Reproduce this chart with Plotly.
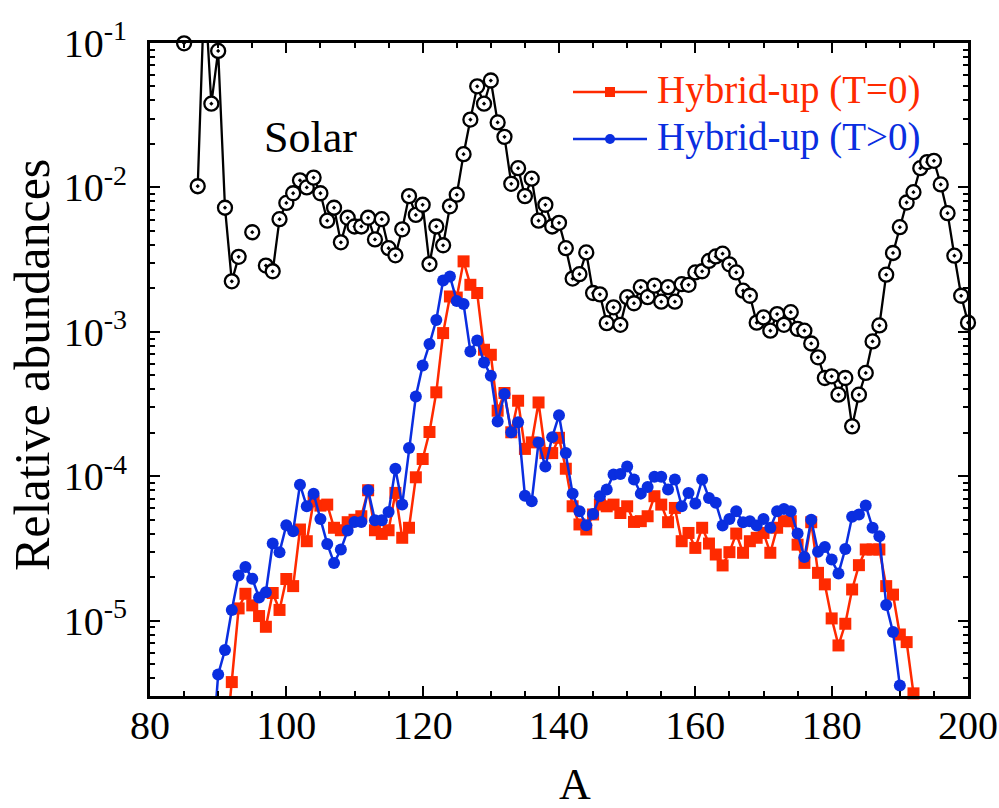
import plotly.graph_objects as go

# ---------------- data ----------------
solar_A = list(range(85, 201))
solar_vals = {
    85: 9.95e-2, 87: 1.02e-2, 88: 2.5e-1, 89: 3.80e-2, 90: 8.81e-2, 91: 7.24e-3,
    92: 2.24e-3, 93: 3.31e-3, 95: 4.90e-3, 97: 2.88e-3, 98: 2.63e-3, 99: 6.03e-3,
    100: 7.82e-3, 101: 9.12e-3, 102: 1.12e-2, 103: 1.00e-2, 104: 1.17e-2, 105: 9.12e-3,
    106: 5.89e-3, 107: 7.24e-3, 108: 4.17e-3, 109: 6.17e-3, 110: 5.37e-3, 111: 5.37e-3,
    112: 6.17e-3, 113: 4.37e-3, 114: 6.03e-3, 115: 3.80e-3, 116: 3.39e-3, 117: 5.13e-3,
    118: 8.71e-3, 119: 6.46e-3, 120: 7.59e-3, 121: 2.95e-3, 122: 5.37e-3, 123: 3.98e-3,
    124: 7.41e-3, 125: 8.91e-3, 126: 1.70e-2, 127: 2.95e-2, 128: 5.01e-2, 129: 3.80e-2,
    130: 5.50e-2, 131: 2.82e-2, 132: 2.24e-2, 133: 1.06e-2, 134: 1.36e-2, 135: 8.71e-3,
    136: 1.15e-2, 137: 5.89e-3, 138: 7.59e-3, 139: 5.37e-3, 140: 5.69e-3, 141: 3.80e-3,
    142: 2.34e-3, 143: 2.51e-3, 144: 3.55e-3, 145: 1.86e-3, 146: 1.82e-3, 147: 1.15e-3,
    148: 1.48e-3, 149: 1.12e-3, 150: 1.74e-3, 151: 1.58e-3, 152: 2.04e-3, 153: 1.74e-3,
    154: 2.09e-3, 155: 1.62e-3, 156: 2.04e-3, 157: 1.62e-3, 158: 2.14e-3, 159: 2.12e-3,
    160: 2.58e-3, 161: 2.63e-3, 162: 3.10e-3, 163: 3.33e-3, 164: 3.48e-3, 165: 2.94e-3,
    166: 2.58e-3, 167: 1.93e-3, 168: 1.78e-3, 169: 1.16e-3, 170: 1.26e-3, 171: 1.02e-3,
    172: 1.33e-3, 173: 1.12e-3, 174: 1.37e-3, 175: 1.05e-3, 176: 1.02e-3, 177: 8.32e-4,
    178: 6.67e-4, 179: 4.80e-4, 180: 4.93e-4, 181: 3.68e-4, 182: 4.80e-4, 183: 2.22e-4,
    184: 3.68e-4, 185: 5.20e-4, 186: 8.59e-4, 187: 1.11e-3, 188: 2.49e-3, 189: 3.52e-3,
    190: 5.31e-3, 191: 7.87e-3, 192: 9.27e-3, 193: 1.36e-2, 194: 1.50e-2, 195: 1.53e-2,
    196: 1.05e-2, 197: 6.64e-3, 198: 3.37e-3, 199: 1.78e-3, 200: 1.16e-3,
}
solar_Y = [solar_vals.get(a) for a in solar_A]  # None = no data (gap)

red_A = list(range(91, 193))
red_Y = [
    1.2e-6, 3.77e-6, 1.22e-5, 1.54e-5, 1.28e-5, 1.08e-5, 9.10e-6, 1.56e-5, 1.19e-5, 1.95e-5,  # 91-100
    1.74e-5, 4.29e-5, 3.56e-5, 6.73e-5, 6.28e-5, 6.38e-5, 4.41e-5, 4.24e-5, 4.82e-5, 5.01e-5,  # 101-110
    5.30e-5, 8.02e-5, 4.24e-5, 4.00e-5, 4.24e-5, 7.69e-5, 3.76e-5, 4.41e-5, 9.86e-5, 1.32e-4,  # 111-120
    2.03e-4, 3.82e-4, 9.82e-4, 1.76e-3, 1.73e-3, 3.08e-3, 2.12e-3, 1.86e-3, 7.53e-4, 6.95e-4,  # 121-130
    2.85e-4, 3.78e-4, 2.02e-4, 3.34e-4, 1.55e-4, 1.72e-4, 3.25e-4, 1.45e-4, 1.45e-4, 1.85e-4,  # 131-140
    1.13e-4, 6.21e-5, 4.65e-5, 4.29e-5, 5.45e-5, 6.38e-5, 6.21e-5, 6.38e-5, 5.58e-5, 6.21e-5,  # 141-150
    4.84e-5, 4.90e-5, 5.30e-5, 7.29e-5, 6.38e-5, 4.82e-5, 6.05e-5, 3.56e-5, 4.06e-5, 3.20e-5,  # 151-160
    4.41e-5, 3.43e-5, 2.88e-5, 2.42e-5, 2.99e-5, 4.02e-5, 2.96e-5, 3.56e-5, 3.76e-5, 4.06e-5,  # 161-170
    2.96e-5, 4.41e-5, 4.90e-5, 4.90e-5, 3.37e-5, 2.52e-5, 4.82e-5, 2.15e-5, 1.79e-5, 1.04e-5,  # 171-180
    6.76e-6, 9.55e-6, 1.65e-5, 2.43e-5, 3.12e-5, 3.12e-5, 3.12e-5, 1.74e-5, 1.52e-5, 8.05e-6,  # 181-190
    7.13e-6, 3.15e-6,                                                                          # 191-192
]

blue_A = list(range(89, 191))
blue_Y = [
    1.0e-6, 4.26e-6, 6.28e-6, 1.19e-5, 2.06e-5, 2.36e-5, 1.96e-5, 1.45e-5, 1.58e-5, 3.43e-5,  # 89-98
    2.99e-5, 4.59e-5, 4.17e-5, 8.77e-5, 6.21e-5, 7.60e-5, 5.08e-5, 3.41e-5, 2.52e-5, 3.12e-5,  # 99-108
    4.22e-5, 4.84e-5, 4.84e-5, 8.02e-5, 4.97e-5, 4.97e-5, 5.68e-5, 1.13e-4, 6.38e-5, 1.57e-4,  # 109-118
    3.58e-4, 5.86e-4, 8.24e-4, 1.21e-3, 2.27e-3, 2.42e-3, 1.64e-3, 1.56e-3, 7.33e-4, 8.73e-4,  # 119-128
    6.15e-4, 4.98e-4, 2.40e-4, 3.72e-4, 2.02e-4, 2.37e-4, 7.36e-5, 6.73e-5, 1.72e-4, 1.17e-4,  # 129-138
    1.87e-4, 2.65e-4, 1.45e-4, 7.60e-5, 5.74e-5, 4.59e-5, 5.50e-5, 7.29e-5, 8.11e-5, 1.03e-4,  # 139-148
    1.04e-4, 1.17e-4, 9.51e-5, 7.60e-5, 8.45e-5, 9.93e-5, 9.93e-5, 8.11e-5, 9.51e-5, 6.21e-5,  # 149-158
    7.69e-5, 6.49e-5, 9.51e-5, 7.10e-5, 6.56e-5, 4.57e-5, 5.08e-5, 5.74e-5, 4.82e-5, 4.90e-5,  # 159-168
    4.57e-5, 5.08e-5, 4.41e-5, 5.74e-5, 5.96e-5, 5.74e-5, 4.02e-5, 2.77e-5, 5.02e-5, 3.01e-5,  # 169-178
    3.25e-5, 2.66e-5, 2.13e-5, 3.15e-5, 5.25e-5, 5.45e-5, 6.28e-5, 4.41e-5, 3.85e-5, 1.29e-5,  # 179-188
    8.36e-6, 3.57e-6,                                                                          # 189-190
]

x_ticks = [80, 100, 120, 140, 160, 180, 200]
y_ticks = [1e-5, 1e-4, 1e-3, 1e-2, 1e-1]
y_ticktext = ["10<sup>-5</sup>", "10<sup>-4</sup>", "10<sup>-3</sup>", "10<sup>-2</sup>", "10<sup>-1</sup>"]
legend_labels = ["Hybrid-up (T=0)", "Hybrid-up (T>0)"]

# ---------------- styling ----------------
FONT = "Liberation Serif"
RED = "#ff2a00"
BLUE = "#0a2ee0"
YMIN_LOG, YMAX_LOG = -5.52, -1.0
YMIN, YMAX = 10 ** YMIN_LOG, 10 ** YMAX_LOG


def vis(vals):
    # hide markers of points that lie outside the plotted range (line still drawn, clipped)
    return [0 if (v is None or v < YMIN * 0.999 or v > YMAX * 1.001) else 1 for v in vals]


fig = go.Figure()

fig.add_trace(go.Scatter(
    x=solar_A, y=solar_Y, mode="lines+markers", name="Solar", showlegend=False,
    connectgaps=False, cliponaxis=False,
    line=dict(color="black", width=2.3),
    marker=dict(symbol="circle-dot", size=14, color="white",
                opacity=vis(solar_Y), line=dict(color="black", width=2.3)),
))
fig.add_trace(go.Scatter(
    x=red_A, y=red_Y, mode="lines+markers", name=legend_labels[0], showlegend=False,
    cliponaxis=False,
    line=dict(color=RED, width=2.5),
    marker=dict(symbol="square", size=12, color=RED, opacity=vis(red_Y)),
))
fig.add_trace(go.Scatter(
    x=blue_A, y=blue_Y, mode="lines+markers", name=legend_labels[1], showlegend=False,
    cliponaxis=False,
    line=dict(color=BLUE, width=2.5),
    marker=dict(symbol="circle", size=12, color=BLUE, opacity=vis(blue_Y)),
))

# geometry helpers (plot area in pixels)
L, R, T, B = 150, 968, 43, 696
W, H = 999, 808


def px(x):
    return (x - L) / (R - L)


def py(y):
    return (B - y) / (B - T)


minor_y = [k * 10 ** n for n in range(-6, -1) for k in range(2, 10)]

fig.update_layout(
    width=W, height=H,
    margin=dict(l=L, r=W - R, t=T, b=H - B, autoexpand=False),
    paper_bgcolor="white", plot_bgcolor="white",
    font=dict(family=FONT, color="black"),
    showlegend=False,
    xaxis=dict(
        range=[80, 200], tickvals=x_ticks, ticktext=[str(v) for v in x_ticks],
        automargin=False,
        ticks="inside", ticklen=10, tickwidth=2, tickcolor="black",
        showline=True, linewidth=3, linecolor="black", mirror="ticks",
        showgrid=False, zeroline=False,
        tickfont=dict(family=FONT, size=40, color="black"),
        ticklabelstandoff=-8,
        minor=dict(dtick=5, ticks="inside", ticklen=5, tickwidth=2, tickcolor="black", showgrid=False),
    ),
    yaxis=dict(
        type="log", range=[YMIN_LOG, YMAX_LOG], tickvals=y_ticks, ticktext=y_ticktext,
        automargin=False,
        ticks="inside", ticklen=10, tickwidth=2, tickcolor="black",
        showline=True, linewidth=3, linecolor="black", mirror="ticks",
        showgrid=False, zeroline=False,
        tickfont=dict(family=FONT, size=40, color="black"),
        ticklabelstandoff=12,
        minor=dict(tickvals=minor_y, ticks="inside", ticklen=5, tickwidth=2, tickcolor="black", showgrid=False),
    ),
)

annotations = [
    dict(text="A", x=px(575), y=py(784), xref="paper", yref="paper", showarrow=False,
         xanchor="center", yanchor="middle", font=dict(family=FONT, size=44, color="black")),
    dict(text="Relative abundances", x=px(32), y=py(365), xref="paper", yref="paper",
         showarrow=False, textangle=-90, xanchor="center", yanchor="middle",
         font=dict(family=FONT, size=50, color="black")),
    dict(text="Solar", x=px(310), y=py(137), xref="paper", yref="paper", showarrow=False,
         xanchor="center", yanchor="middle", font=dict(family=FONT, size=44, color="black")),
]

# manual legend (long sample lines like the reference)
shapes = []
for i, (lab, col) in enumerate(zip(legend_labels, [RED, BLUE])):
    yy = 92 + 47 * i
    shapes.append(dict(type="line", xref="paper", yref="paper",
                       x0=px(573), x1=px(647), y0=py(yy), y1=py(yy),
                       line=dict(color=col, width=2.5)))
    if i == 0:
        shapes.append(dict(type="rect", xref="paper", yref="paper",
                           x0=px(605), x1=px(615), y0=py(yy + 5), y1=py(yy - 5),
                           fillcolor=col, line=dict(width=0)))
    else:
        shapes.append(dict(type="circle", xref="paper", yref="paper",
                           x0=px(605), x1=px(615), y0=py(yy + 5), y1=py(yy - 5),
                           fillcolor=col, line=dict(width=0)))
    annotations.append(dict(text=lab, x=px(655), y=py(yy - 2), xref="paper", yref="paper",
                            showarrow=False, xanchor="left", yanchor="middle",
                            font=dict(family=FONT, size=39, color=col)))

fig.update_layout(annotations=annotations, shapes=shapes)

fig.write_html("out.html")
